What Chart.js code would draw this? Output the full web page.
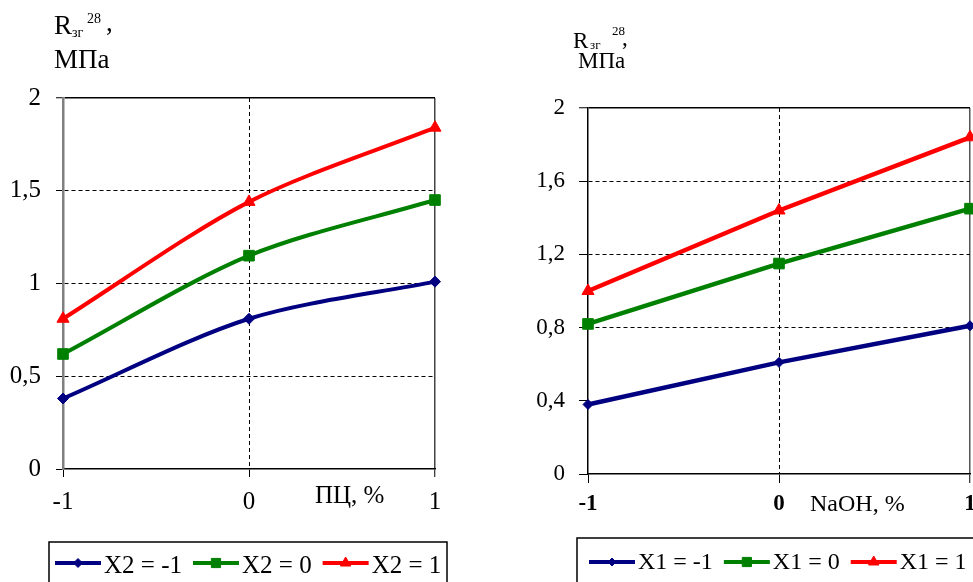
<!DOCTYPE html>
<html>
<head>
<meta charset="utf-8">
<script src="https://cdn.jsdelivr.net/npm/chart.js@4.4.1/dist/chart.umd.min.js"></script>
<style>
  html, body { margin: 0; padding: 0; background: #fff; overflow: hidden; width: 973px; height: 582px; }
  canvas { position: absolute; top: 0; }
  #chartLeft { left: 0; }
  #chartRight { left: 490px; }
</style>
</head>
<body>
<canvas id="chartLeft" width="480" height="582"></canvas>
<canvas id="chartRight" width="600" height="582"></canvas>
<script>
// рівні факторів по осі X
const xLevels = [-1, 0, 1];

// лівий графік (ПЦ, %)
const leftNames = ['X2 = -1', 'X2 = 0', 'X2 = 1'];
const leftMinus = [0.38, 0.81, 1.01];
const leftZero = [0.62, 1.15, 1.45];
const leftPlus = [0.81, 1.44, 1.84];
const leftYTicks = [0, 0.5, 1, 1.5, 2];

// правий графік (NaOH, %)
const rightNames = ['X1 = -1', 'X1 = 0', 'X1 = 1'];
const rightMinus = [0.38, 0.61, 0.81];
const rightZero = [0.82, 1.15, 1.45];
const rightPlus = [1.0, 1.44, 1.84];
const rightYTicks = [0, 0.4, 0.8, 1.2, 1.6, 2];

const FONT = '"Liberation Serif", "Times New Roman", serif';
const colors = ['#000080', '#008000', '#ff0000'];
const markers = ['rectRot', 'rect', 'triangle'];

Chart.defaults.font.family = FONT;
Chart.defaults.color = '#000';

// кома замість крапки
const fmt = (v) => String(Math.round(v * 10) / 10).replace('.', ',');

// підписи осей і легенда малюються тут
const decorPlugin = {
  id: 'decor',
  afterDraw(chart, args, o) {
    const ctx = chart.ctx;
    ctx.save();
    ctx.fillStyle = '#000';
    ctx.textAlign = 'left';
    ctx.textBaseline = 'alphabetic';

    // назва осі Y: R зг 28, МПа
    const t = o.yTitle;
    ctx.font = t.size + 'px ' + FONT;
    ctx.fillText('R', t.rx, t.ry);
    ctx.font = t.small + 'px ' + FONT;
    ctx.fillText('зг', t.subx, t.suby);
    ctx.fillText('28', t.supx, t.supy);
    ctx.font = t.size + 'px ' + FONT;
    ctx.fillText(',', t.cx, t.cy);
    ctx.fillText('МПа', t.mx, t.my);

    // назва осі X
    const xt = o.xTitle;
    ctx.font = xt.size + 'px ' + FONT;
    ctx.fillText(xt.text, xt.x, xt.y);

    // легенда в рамці
    const lg = o.legend;
    ctx.lineWidth = 1.5;
    ctx.strokeStyle = '#000';
    ctx.strokeRect(lg.box[0], lg.box[1], lg.box[2], lg.box[3]);
    ctx.font = lg.size + 'px ' + FONT;
    let x = lg.x;
    chart.data.datasets.forEach((ds) => {
      ctx.strokeStyle = ds.borderColor;
      ctx.lineWidth = 4;
      ctx.beginPath();
      ctx.moveTo(x, lg.cy);
      ctx.lineTo(x + 46, lg.cy);
      ctx.stroke();
      ctx.fillStyle = ds.borderColor;
      ctx.strokeStyle = ds.borderColor;
      ctx.lineWidth = 1;
      Chart.helpers.drawPoint(ctx, { pointStyle: ds.pointStyle, radius: ds.pointRadius - 1, rotation: 0, borderWidth: 1 }, x + 23, lg.cy);
      ctx.fillStyle = '#000';
      ctx.fillText(ds.label, x + 49, lg.ty);
      x += 49 + ctx.measureText(ds.label).width + 11;
    });
    ctx.restore();
  }
};

const makeChart = (id, names, series, yTicks, o) => {
  const datasets = series.map((vals, i) => ({
    label: names[i],
    data: vals.map((v, k) => ({ x: xLevels[k], y: v })),
    borderColor: colors[i],
    backgroundColor: colors[i],
    borderWidth: o.lineWidth,
    pointStyle: markers[i],
    pointRadius: o.radius[i],
    pointBorderWidth: 1,
    tension: o.tension,
    clip: false,
  }));

  return new Chart(document.getElementById(id), {
    type: 'line',
    data: { datasets: datasets },
    plugins: [decorPlugin],
    options: {
      responsive: false,
      devicePixelRatio: 1,
      animation: false,
      layout: { padding: { left: 0, top: o.top, right: o.right, bottom: 0 } },
      plugins: {
        legend: { display: false },
        tooltip: { enabled: false },
        decor: o.decor,
      },
      scales: {
        x: {
          type: 'linear',
          min: -1,
          max: 1,
          afterBuildTicks: (s) => { s.ticks = xLevels.map((v) => ({ value: v })); },
          afterFit: (s) => { s.height = o.xHeight; },
          ticks: {
            padding: o.xPad,
            font: { size: o.tickSize, weight: o.xBold ? 'bold' : 'normal' },
            color: '#000',
            callback: (v) => fmt(v),
          },
          grid: {
            color: (c) => (c.tick && c.tick.value === -1 ? 'rgba(0,0,0,0)' : (c.tick && c.tick.value === 1 ? o.rightBorder : '#000')),
            lineWidth: (c) => (c.tick && c.tick.value === 1 ? 1.5 : 1),
            tickColor: '#000',
            tickLength: o.xTick,
            tickWidth: 1,
          },
          border: {
            color: '#000',
            width: 1.5,
            dash: (c) => (c.tick && c.tick.value === 0 ? [4, 3] : []),
          },
        },
        y: {
          min: 0,
          max: 2,
          afterBuildTicks: (s) => { s.ticks = yTicks.map((v) => ({ value: v })); },
          afterFit: (s) => { s.width = o.yWidth; },
          ticks: {
            padding: o.yPad,
            font: { size: o.tickSize },
            color: '#000',
            callback: (v) => fmt(v),
          },
          grid: {
            color: (c) => {
              const v = c.tick ? c.tick.value : null;
              if (v === 0 || o.hideGrid.includes(v)) return 'rgba(0,0,0,0)';
              return '#000';
            },
            lineWidth: (c) => (c.tick && c.tick.value === 2 ? 1.5 : 1),
            tickColor: '#000',
            tickLength: o.yTick,
            tickWidth: 1,
          },
          border: {
            color: o.yAxisColor,
            width: o.yAxisWidth,
            dash: (c) => (c.tick && c.tick.value !== 2 ? [4, 3] : []),
          },
        },
      },
    },
  });
};

makeChart('chartLeft', leftNames, [leftMinus, leftZero, leftPlus], leftYTicks, {
  top: 98, right: 45, xHeight: 113, yWidth: 63,
  tickSize: 25, xPad: 10, yPad: 15, xTick: 8, yTick: 7,
  lineWidth: 4, radius: [5.5, 7.5, 7], tension: 0.3,
  xBold: false, rightBorder: '#444', yAxisColor: '#808080', yAxisWidth: 2.5,
  hideGrid: [],
  decor: {
    yTitle: { size: 27, small: 14, rx: 54, ry: 34, subx: 72, suby: 37, supx: 87, supy: 23, cx: 106, cy: 31, mx: 54, my: 68 },
    xTitle: { text: 'ПЦ, %', size: 25, x: 315, y: 503 },
    legend: { box: [49, 542, 398, 60], x: 55, cy: 563, ty: 573, size: 25 },
  },
});

makeChart('chartRight', rightNames, [rightMinus, rightZero, rightPlus], rightYTicks, {
  top: 108, right: 120, xHeight: 108, yWidth: 98,
  tickSize: 23, xPad: 7, yPad: 14, xTick: 9, yTick: 9,
  lineWidth: 4.5, radius: [5, 7.5, 7], tension: 0,
  xBold: true, rightBorder: '#555', yAxisColor: '#000', yAxisWidth: 1.5,
  hideGrid: [0.4],
  decor: {
    yTitle: { size: 23, small: 13, rx: 83, ry: 48, subx: 100, suby: 49, supx: 122, supy: 35, cx: 132, cy: 45, mx: 88, my: 68 },
    xTitle: { text: 'NaOH, %', size: 24, x: 320, y: 511 },
    legend: { box: [87, 538, 600, 60], x: 99, cy: 562, ty: 569, size: 24 },
  },
});
</script>
</body>
</html>
